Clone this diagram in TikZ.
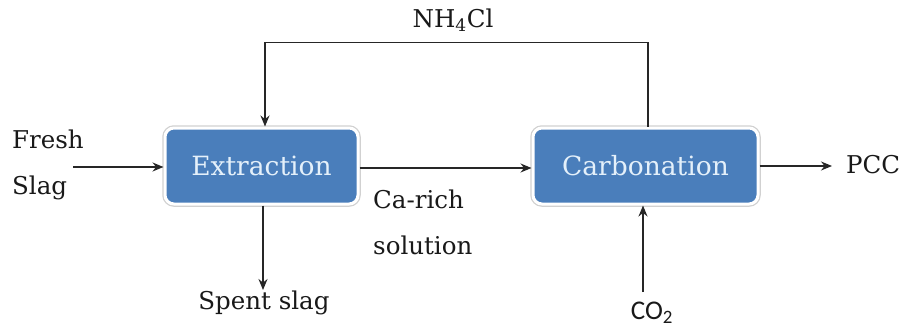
\documentclass[tikz,border=0pt]{standalone}
\usepackage{fontspec}
\setmainfont{DejaVu Serif}
\newfontfamily\cosans{Carlito}
\usetikzlibrary{arrows.meta}
\definecolor{boxblue}{RGB}{74,126,187}
\definecolor{boxtext}{RGB}{228,240,250}
\tikzset{
  lbl/.style={font=\fontsize{24.5}{46}\selectfont, text=black!90, inner sep=0pt, align=left},
  procbox/.style={rounded corners=9pt, fill=boxblue, draw=white, line width=3pt,
    preaction={draw=black!18, line width=5.5pt},
    text=boxtext, font=\fontsize{26.5}{30}\selectfont, inner sep=0pt},
  arr/.style={line width=1.5pt, draw=black!85, -{Stealth[length=11pt,width=9pt]}},
}
\begin{document}
\begin{tikzpicture}[x=1pt,y=-1pt]
\useasboundingbox[fill=white] (0,0) rectangle (903,329);
\node[procbox, minimum width=193pt, minimum height=76pt] (ext) at (261.5,166) {Extraction};
\node[procbox, minimum width=225pt, minimum height=76pt] (carb) at (645.5,166) {Carbonation};
\node[lbl] (nh) at (453,20) {NH\textsubscript{4}Cl};
\node[lbl, anchor=west] (fresh) at (12,165) {Fresh\\Slag};
\coordinate (fs) at (73,167);
\node[lbl, anchor=north west] (ca) at (373,190) {Ca-rich\\solution};
\node[lbl] (spent) at (264,303) {Spent slag};
\coordinate (sp) at (263,290);
\node[lbl, anchor=west] (pcc) at (846,165) {PCC};
\coordinate (pc) at (832,166);
\node[lbl, font=\cosans\fontsize{27}{30}\selectfont] (co) at (652,313) {CO\textsubscript{2}};
\coordinate (cb) at (643,292);
% connectors
\draw[arr] ([xshift=2.5pt]carb.north) -- ++(0,-84) -| ([xshift=3.5pt]ext.north);
\draw[arr] (fs) -- (ext.west |- fs);
\draw[arr] ([yshift=-2pt]ext.east) -- ([yshift=-2pt]carb.west);
\draw[arr] (ext.south -| sp) -- (sp);
\draw[arr] (carb.east) -- (pc);
\draw[arr] (cb) -- (carb.south -| cb);
\end{tikzpicture}
\end{document}
